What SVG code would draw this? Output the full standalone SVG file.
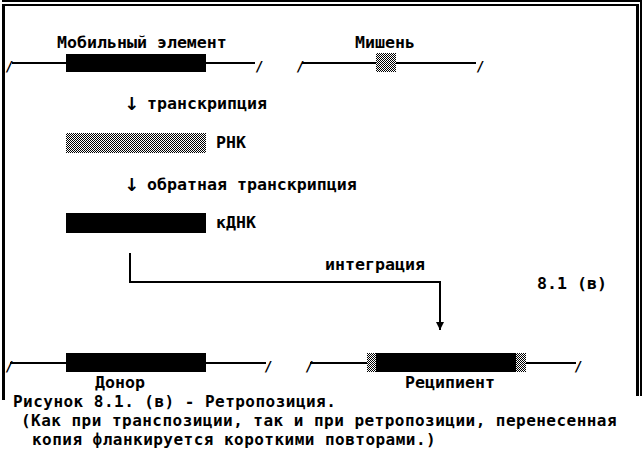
<svg xmlns="http://www.w3.org/2000/svg" width="643" height="453" viewBox="0 0 643 453">
<style>
  text { font-family: "DejaVu Sans Mono", "Liberation Mono", monospace; font-size: 16.6px; font-weight: bold; fill: #000; }
  .sl { font-size: 14px; font-weight: bold; }
  .ar { font-family: "DejaVu Sans", "Liberation Sans", sans-serif; font-size: 18px; font-weight: bold; }
  .cap { font-size: 16px; letter-spacing: 0.47px; font-weight: bold; }
  .dna { stroke: #000; stroke-width: 2; fill: none; }
  .blk { fill: #000; }
  .chk { fill: url(#checker); }
  .conn { stroke: #000; stroke-width: 2; fill: none; }
</style>
<defs>
  <pattern id="checker" width="2" height="2" patternUnits="userSpaceOnUse">
    <rect width="2" height="2" fill="#fff"/>
    <rect width="1" height="1" fill="#000"/>
    <rect x="1" y="1" width="1" height="1" fill="#000"/>
  </pattern>
  <marker id="arr" viewBox="0 0 10 10" refX="10" refY="5" markerWidth="4" markerHeight="4" orient="auto" markerUnits="strokeWidth">
    <path d="M0,0 L10,5 L0,10 Z" fill="#000"/>
  </marker>
</defs>
<rect width="643" height="453" fill="#fff"/>
<g id="frame">
  <rect x="2" y="0" width="639" height="2" fill="#000"/>
  <rect x="2" y="4" width="637" height="2" fill="#000"/>
  <rect x="2" y="4" width="3" height="396" fill="#000"/>
  <rect x="636" y="4" width="3" height="392" fill="#000"/>
  <rect x="640" y="0" width="2" height="396" fill="#000"/>
</g>
<g id="mobile-element">
  <text x="57" y="48">Мобильный элемент</text>
  <text class="sl" x="5" y="71">/</text>
  <line class="dna" x1="12" y1="63" x2="255" y2="63"/>
  <rect class="blk" x="66" y="54" width="140" height="18"/>
  <text class="sl" x="255" y="71">/</text>
</g>
<g id="target">
  <text x="355" y="48">Мишень</text>
  <text class="sl" x="296" y="71">/</text>
  <line class="dna" x1="302" y1="63" x2="476" y2="63"/>
  <rect class="chk" x="376" y="53" width="20" height="19"/>
  <text class="sl" x="476" y="71">/</text>
</g>
<g id="transcription-label">
  <text x="124" y="110"><tspan class="ar">↓ </tspan><tspan x="147" y="109">транскрипция</tspan></text>
</g>
<g id="rna">
  <rect class="chk" x="66" y="133" width="140" height="20"/>
  <text x="216" y="148">РНК</text>
</g>
<g id="reverse-transcription-label">
  <text x="124" y="191"><tspan class="ar">↓ </tspan><tspan x="147" y="190">обратная транскрипция</tspan></text>
</g>
<g id="cdna">
  <rect class="blk" x="66" y="213" width="140" height="20"/>
  <text x="216" y="228">кДНК</text>
</g>
<g id="connectors">
  <polyline class="conn" points="130,253 130,282 440,282 440,330" marker-end="url(#arr)"/>
</g>
<g id="integration-label">
  <text x="325" y="270">интеграция</text>
</g>
<g id="figure-number">
  <text x="537" y="289">8.1 (в)</text>
</g>
<g id="donor">
  <text class="sl" x="5" y="371">/</text>
  <line class="dna" x1="10" y1="363" x2="266" y2="363"/>
  <rect class="blk" x="66" y="353" width="140" height="19"/>
  <text class="sl" x="264" y="371">/</text>
  <text x="95" y="388">Донор</text>
</g>
<g id="recipient">
  <text class="sl" x="305" y="371">/</text>
  <line class="dna" x1="310" y1="363" x2="576" y2="363"/>
  <rect class="chk" x="367" y="353" width="10" height="19"/>
  <rect class="blk" x="376" y="353" width="140" height="19"/>
  <rect class="chk" x="516" y="353" width="10" height="19"/>
  <text class="sl" x="574" y="371">/</text>
  <text x="405" y="388">Реципиент</text>
</g>
<g id="caption">
  <text class="cap" x="13" y="407">Рисунок 8.1. (в) - Ретропозиция.</text>
  <text class="cap" x="21" y="426">(Как при транспозиции, так и при ретропозиции, перенесенная</text>
  <text class="cap" x="32" y="445">копия фланкируется короткими повторами.)</text>
</g>
</svg>
